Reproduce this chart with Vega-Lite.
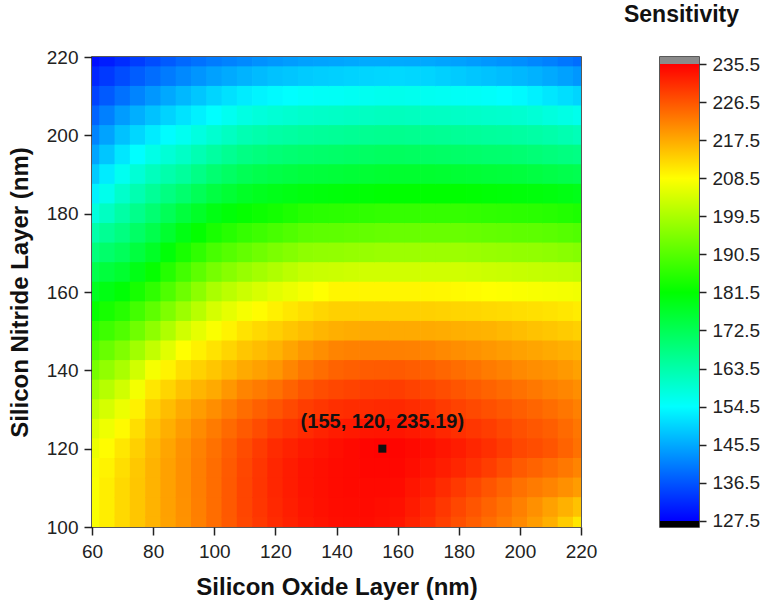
{
  "$schema": "https://vega.github.io/schema/vega-lite/v6.json",
  "background": "white",
  "padding": {"left": 7, "top": 3, "right": 5, "bottom": 5},
  "bounds": "flush",
  "spacing": 79,
  "config": {
    "font": "Liberation Sans",
    "view": {"stroke": "#222", "strokeWidth": 1.5}
  },
  "hconcat": [
    {
      "width": 489,
      "height": 470,
      "layer": [
        {
          "data": {"values": [
{"x":60,"y":220,"s":129},{"x":60,"y":215,"s":131.5},{"x":60,"y":210,"s":134.5},{"x":60,"y":205,"s":138},{"x":60,"y":200,"s":141.5},{"x":60,"y":195,"s":145},{"x":60,"y":190,"s":149},{"x":60,"y":185,"s":153},{"x":60,"y":180,"s":158},{"x":60,"y":175,"s":163.5},{"x":60,"y":170,"s":168.5},{"x":60,"y":165,"s":173.5},{"x":60,"y":160,"s":178},{"x":60,"y":155,"s":182},{"x":60,"y":150,"s":186},{"x":60,"y":145,"s":190},{"x":60,"y":140,"s":194},{"x":60,"y":135,"s":198},{"x":60,"y":130,"s":201.5},{"x":60,"y":125,"s":204.5},{"x":60,"y":120,"s":206.5},{"x":60,"y":115,"s":207.5},{"x":60,"y":110,"s":208},{"x":60,"y":105,"s":208},{"x":60,"y":100,"s":208},
{"x":65,"y":220,"s":130.5},{"x":65,"y":215,"s":133.5},{"x":65,"y":210,"s":137},{"x":65,"y":205,"s":141},{"x":65,"y":200,"s":144.8},{"x":65,"y":195,"s":148.5},{"x":65,"y":190,"s":152.5},{"x":65,"y":185,"s":156.5},{"x":65,"y":180,"s":161},{"x":65,"y":175,"s":165.8},{"x":65,"y":170,"s":170.3},{"x":65,"y":165,"s":175},{"x":65,"y":160,"s":179.5},{"x":65,"y":155,"s":183.8},{"x":65,"y":150,"s":188},{"x":65,"y":145,"s":192.5},{"x":65,"y":140,"s":196.8},{"x":65,"y":135,"s":200.8},{"x":65,"y":130,"s":204},{"x":65,"y":125,"s":206.8},{"x":65,"y":120,"s":208.8},{"x":65,"y":115,"s":209.8},{"x":65,"y":110,"s":210.3},{"x":65,"y":105,"s":210.3},{"x":65,"y":100,"s":210.3},
{"x":70,"y":220,"s":132},{"x":70,"y":215,"s":135.5},{"x":70,"y":210,"s":139.5},{"x":70,"y":205,"s":144},{"x":70,"y":200,"s":148},{"x":70,"y":195,"s":152},{"x":70,"y":190,"s":156},{"x":70,"y":185,"s":160},{"x":70,"y":180,"s":164},{"x":70,"y":175,"s":168},{"x":70,"y":170,"s":172},{"x":70,"y":165,"s":176.5},{"x":70,"y":160,"s":181},{"x":70,"y":155,"s":185.5},{"x":70,"y":150,"s":190},{"x":70,"y":145,"s":195},{"x":70,"y":140,"s":199.5},{"x":70,"y":135,"s":203.5},{"x":70,"y":130,"s":206.5},{"x":70,"y":125,"s":209},{"x":70,"y":120,"s":211},{"x":70,"y":115,"s":212},{"x":70,"y":110,"s":212.5},{"x":70,"y":105,"s":212.5},{"x":70,"y":100,"s":212.5},
{"x":75,"y":220,"s":133.8},{"x":75,"y":215,"s":137.3},{"x":75,"y":210,"s":141.5},{"x":75,"y":205,"s":146},{"x":75,"y":200,"s":150.3},{"x":75,"y":195,"s":154.5},{"x":75,"y":190,"s":158.8},{"x":75,"y":185,"s":162.8},{"x":75,"y":180,"s":166.8},{"x":75,"y":175,"s":170.8},{"x":75,"y":170,"s":174.8},{"x":75,"y":165,"s":179.3},{"x":75,"y":160,"s":183.8},{"x":75,"y":155,"s":188.5},{"x":75,"y":150,"s":193.3},{"x":75,"y":145,"s":198.5},{"x":75,"y":140,"s":203.5},{"x":75,"y":135,"s":207.3},{"x":75,"y":130,"s":210},{"x":75,"y":125,"s":212},{"x":75,"y":120,"s":213.5},{"x":75,"y":115,"s":214.3},{"x":75,"y":110,"s":214.5},{"x":75,"y":105,"s":214.5},{"x":75,"y":100,"s":214.5},
{"x":80,"y":220,"s":135.5},{"x":80,"y":215,"s":139},{"x":80,"y":210,"s":143.5},{"x":80,"y":205,"s":148},{"x":80,"y":200,"s":152.5},{"x":80,"y":195,"s":157},{"x":80,"y":190,"s":161.5},{"x":80,"y":185,"s":165.5},{"x":80,"y":180,"s":169.5},{"x":80,"y":175,"s":173.5},{"x":80,"y":170,"s":177.5},{"x":80,"y":165,"s":182},{"x":80,"y":160,"s":186.5},{"x":80,"y":155,"s":191.5},{"x":80,"y":150,"s":196.5},{"x":80,"y":145,"s":202},{"x":80,"y":140,"s":207.5},{"x":80,"y":135,"s":211},{"x":80,"y":130,"s":213.5},{"x":80,"y":125,"s":215},{"x":80,"y":120,"s":216},{"x":80,"y":115,"s":216.5},{"x":80,"y":110,"s":216.5},{"x":80,"y":105,"s":216.5},{"x":80,"y":100,"s":216.5},
{"x":85,"y":220,"s":137},{"x":85,"y":215,"s":140.5},{"x":85,"y":210,"s":145.3},{"x":85,"y":205,"s":149.8},{"x":85,"y":200,"s":154.3},{"x":85,"y":195,"s":158.8},{"x":85,"y":190,"s":163.3},{"x":85,"y":185,"s":167.8},{"x":85,"y":180,"s":172.3},{"x":85,"y":175,"s":176.5},{"x":85,"y":170,"s":180.8},{"x":85,"y":165,"s":185.3},{"x":85,"y":160,"s":189.8},{"x":85,"y":155,"s":194.8},{"x":85,"y":150,"s":200},{"x":85,"y":145,"s":205.3},{"x":85,"y":140,"s":209.8},{"x":85,"y":135,"s":213},{"x":85,"y":130,"s":215.5},{"x":85,"y":125,"s":217},{"x":85,"y":120,"s":218},{"x":85,"y":115,"s":218.4},{"x":85,"y":110,"s":218.4},{"x":85,"y":105,"s":218.4},{"x":85,"y":100,"s":218.3},
{"x":90,"y":220,"s":138.5},{"x":90,"y":215,"s":142},{"x":90,"y":210,"s":147},{"x":90,"y":205,"s":151.5},{"x":90,"y":200,"s":156},{"x":90,"y":195,"s":160.5},{"x":90,"y":190,"s":165},{"x":90,"y":185,"s":170},{"x":90,"y":180,"s":175},{"x":90,"y":175,"s":179.5},{"x":90,"y":170,"s":184},{"x":90,"y":165,"s":188.5},{"x":90,"y":160,"s":193},{"x":90,"y":155,"s":198},{"x":90,"y":150,"s":203.5},{"x":90,"y":145,"s":208.5},{"x":90,"y":140,"s":212},{"x":90,"y":135,"s":215},{"x":90,"y":130,"s":217.5},{"x":90,"y":125,"s":219},{"x":90,"y":120,"s":220},{"x":90,"y":115,"s":220.3},{"x":90,"y":110,"s":220.3},{"x":90,"y":105,"s":220.2},{"x":90,"y":100,"s":220},
{"x":95,"y":220,"s":139.5},{"x":95,"y":215,"s":143.3},{"x":95,"y":210,"s":148.5},{"x":95,"y":205,"s":153},{"x":95,"y":200,"s":157.8},{"x":95,"y":195,"s":162.5},{"x":95,"y":190,"s":167.3},{"x":95,"y":185,"s":172.3},{"x":95,"y":180,"s":177.3},{"x":95,"y":175,"s":181.8},{"x":95,"y":170,"s":186.5},{"x":95,"y":165,"s":191.3},{"x":95,"y":160,"s":196.3},{"x":95,"y":155,"s":201},{"x":95,"y":150,"s":205.8},{"x":95,"y":145,"s":210},{"x":95,"y":140,"s":213.3},{"x":95,"y":135,"s":216.3},{"x":95,"y":130,"s":219},{"x":95,"y":125,"s":220.8},{"x":95,"y":120,"s":221.8},{"x":95,"y":115,"s":222.2},{"x":95,"y":110,"s":222.2},{"x":95,"y":105,"s":222.1},{"x":95,"y":100,"s":222},
{"x":100,"y":220,"s":140.5},{"x":100,"y":215,"s":144.5},{"x":100,"y":210,"s":150},{"x":100,"y":205,"s":154.5},{"x":100,"y":200,"s":159.5},{"x":100,"y":195,"s":164.5},{"x":100,"y":190,"s":169.5},{"x":100,"y":185,"s":174.5},{"x":100,"y":180,"s":179.5},{"x":100,"y":175,"s":184},{"x":100,"y":170,"s":189},{"x":100,"y":165,"s":194},{"x":100,"y":160,"s":199.5},{"x":100,"y":155,"s":204},{"x":100,"y":150,"s":208},{"x":100,"y":145,"s":211.5},{"x":100,"y":140,"s":214.5},{"x":100,"y":135,"s":217.5},{"x":100,"y":130,"s":220.5},{"x":100,"y":125,"s":222.5},{"x":100,"y":120,"s":223.5},{"x":100,"y":115,"s":224},{"x":100,"y":110,"s":224},{"x":100,"y":105,"s":224},{"x":100,"y":100,"s":224},
{"x":105,"y":220,"s":141.3},{"x":105,"y":215,"s":145.5},{"x":105,"y":210,"s":151.3},{"x":105,"y":205,"s":156},{"x":105,"y":200,"s":161},{"x":105,"y":195,"s":166},{"x":105,"y":190,"s":171},{"x":105,"y":185,"s":176},{"x":105,"y":180,"s":180.8},{"x":105,"y":175,"s":185.5},{"x":105,"y":170,"s":190.5},{"x":105,"y":165,"s":195.8},{"x":105,"y":160,"s":201.3},{"x":105,"y":155,"s":205.8},{"x":105,"y":150,"s":209.8},{"x":105,"y":145,"s":213},{"x":105,"y":140,"s":216},{"x":105,"y":135,"s":219.5},{"x":105,"y":130,"s":222.3},{"x":105,"y":125,"s":224.3},{"x":105,"y":120,"s":225.5},{"x":105,"y":115,"s":226},{"x":105,"y":110,"s":226.1},{"x":105,"y":105,"s":226.1},{"x":105,"y":100,"s":226},
{"x":110,"y":220,"s":142},{"x":110,"y":215,"s":146.5},{"x":110,"y":210,"s":152.5},{"x":110,"y":205,"s":157.5},{"x":110,"y":200,"s":162.5},{"x":110,"y":195,"s":167.5},{"x":110,"y":190,"s":172.5},{"x":110,"y":185,"s":177.5},{"x":110,"y":180,"s":182},{"x":110,"y":175,"s":187},{"x":110,"y":170,"s":192},{"x":110,"y":165,"s":197.5},{"x":110,"y":160,"s":203},{"x":110,"y":155,"s":207.5},{"x":110,"y":150,"s":211.5},{"x":110,"y":145,"s":214.5},{"x":110,"y":140,"s":217.5},{"x":110,"y":135,"s":221.5},{"x":110,"y":130,"s":224},{"x":110,"y":125,"s":226},{"x":110,"y":120,"s":227.5},{"x":110,"y":115,"s":228},{"x":110,"y":110,"s":228.2},{"x":110,"y":105,"s":228.2},{"x":110,"y":100,"s":228},
{"x":115,"y":220,"s":142.8},{"x":115,"y":215,"s":147.3},{"x":115,"y":210,"s":153.3},{"x":115,"y":205,"s":158.3},{"x":115,"y":200,"s":163.3},{"x":115,"y":195,"s":168.3},{"x":115,"y":190,"s":173.3},{"x":115,"y":185,"s":178.3},{"x":115,"y":180,"s":182.8},{"x":115,"y":175,"s":188},{"x":115,"y":170,"s":193.3},{"x":115,"y":165,"s":198.8},{"x":115,"y":160,"s":204.3},{"x":115,"y":155,"s":208.8},{"x":115,"y":150,"s":212.5},{"x":115,"y":145,"s":215.5},{"x":115,"y":140,"s":218.5},{"x":115,"y":135,"s":222.5},{"x":115,"y":130,"s":225.3},{"x":115,"y":125,"s":227.5},{"x":115,"y":120,"s":229.3},{"x":115,"y":115,"s":229.8},{"x":115,"y":110,"s":229.9},{"x":115,"y":105,"s":229.8},{"x":115,"y":100,"s":229.5},
{"x":120,"y":220,"s":143.5},{"x":120,"y":215,"s":148},{"x":120,"y":210,"s":154},{"x":120,"y":205,"s":159},{"x":120,"y":200,"s":164},{"x":120,"y":195,"s":169},{"x":120,"y":190,"s":174},{"x":120,"y":185,"s":179},{"x":120,"y":180,"s":183.5},{"x":120,"y":175,"s":189},{"x":120,"y":170,"s":194.5},{"x":120,"y":165,"s":200},{"x":120,"y":160,"s":205.5},{"x":120,"y":155,"s":210},{"x":120,"y":150,"s":213.5},{"x":120,"y":145,"s":216.5},{"x":120,"y":140,"s":219.5},{"x":120,"y":135,"s":223.5},{"x":120,"y":130,"s":226.5},{"x":120,"y":125,"s":229},{"x":120,"y":120,"s":231},{"x":120,"y":115,"s":231.5},{"x":120,"y":110,"s":231.5},{"x":120,"y":105,"s":231.3},{"x":120,"y":100,"s":231},
{"x":125,"y":220,"s":144},{"x":125,"y":215,"s":148.5},{"x":125,"y":210,"s":154.5},{"x":125,"y":205,"s":159.5},{"x":125,"y":200,"s":164.5},{"x":125,"y":195,"s":169.5},{"x":125,"y":190,"s":174.5},{"x":125,"y":185,"s":179.5},{"x":125,"y":180,"s":184.5},{"x":125,"y":175,"s":190},{"x":125,"y":170,"s":195.5},{"x":125,"y":165,"s":201.3},{"x":125,"y":160,"s":206.5},{"x":125,"y":155,"s":211},{"x":125,"y":150,"s":214.5},{"x":125,"y":145,"s":218},{"x":125,"y":140,"s":221.3},{"x":125,"y":135,"s":225},{"x":125,"y":130,"s":227.8},{"x":125,"y":125,"s":230},{"x":125,"y":120,"s":231.9},{"x":125,"y":115,"s":232.5},{"x":125,"y":110,"s":232.5},{"x":125,"y":105,"s":232.3},{"x":125,"y":100,"s":232},
{"x":130,"y":220,"s":144.5},{"x":130,"y":215,"s":149},{"x":130,"y":210,"s":155},{"x":130,"y":205,"s":160},{"x":130,"y":200,"s":165},{"x":130,"y":195,"s":170},{"x":130,"y":190,"s":175},{"x":130,"y":185,"s":180},{"x":130,"y":180,"s":185.5},{"x":130,"y":175,"s":191},{"x":130,"y":170,"s":196.5},{"x":130,"y":165,"s":202.5},{"x":130,"y":160,"s":207.5},{"x":130,"y":155,"s":212},{"x":130,"y":150,"s":215.5},{"x":130,"y":145,"s":219.5},{"x":130,"y":140,"s":223},{"x":130,"y":135,"s":226.5},{"x":130,"y":130,"s":229},{"x":130,"y":125,"s":231},{"x":130,"y":120,"s":232.8},{"x":130,"y":115,"s":233.5},{"x":130,"y":110,"s":233.5},{"x":130,"y":105,"s":233.3},{"x":130,"y":100,"s":233},
{"x":135,"y":220,"s":144.8},{"x":135,"y":215,"s":149.3},{"x":135,"y":210,"s":155.3},{"x":135,"y":205,"s":160.3},{"x":135,"y":200,"s":165.3},{"x":135,"y":195,"s":170.3},{"x":135,"y":190,"s":175.3},{"x":135,"y":185,"s":180.3},{"x":135,"y":180,"s":185.8},{"x":135,"y":175,"s":191.3},{"x":135,"y":170,"s":196.8},{"x":135,"y":165,"s":202.8},{"x":135,"y":160,"s":208.5},{"x":135,"y":155,"s":212.8},{"x":135,"y":150,"s":216.3},{"x":135,"y":145,"s":220.5},{"x":135,"y":140,"s":224},{"x":135,"y":135,"s":227.3},{"x":135,"y":130,"s":229.8},{"x":135,"y":125,"s":231.8},{"x":135,"y":120,"s":233.4},{"x":135,"y":115,"s":233.9},{"x":135,"y":110,"s":233.9},{"x":135,"y":105,"s":233.8},{"x":135,"y":100,"s":233.5},
{"x":140,"y":220,"s":145},{"x":140,"y":215,"s":149.5},{"x":140,"y":210,"s":155.5},{"x":140,"y":205,"s":160.5},{"x":140,"y":200,"s":165.5},{"x":140,"y":195,"s":170.5},{"x":140,"y":190,"s":175.5},{"x":140,"y":185,"s":180.5},{"x":140,"y":180,"s":186},{"x":140,"y":175,"s":191.5},{"x":140,"y":170,"s":197},{"x":140,"y":165,"s":203},{"x":140,"y":160,"s":209.5},{"x":140,"y":155,"s":213.5},{"x":140,"y":150,"s":217},{"x":140,"y":145,"s":221.5},{"x":140,"y":140,"s":225},{"x":140,"y":135,"s":228},{"x":140,"y":130,"s":230.5},{"x":140,"y":125,"s":232.5},{"x":140,"y":120,"s":234},{"x":140,"y":115,"s":234.3},{"x":140,"y":110,"s":234.3},{"x":140,"y":105,"s":234.2},{"x":140,"y":100,"s":234},
{"x":145,"y":220,"s":145.3},{"x":145,"y":215,"s":149.8},{"x":145,"y":210,"s":155.8},{"x":145,"y":205,"s":160.8},{"x":145,"y":200,"s":165.8},{"x":145,"y":195,"s":170.8},{"x":145,"y":190,"s":175.8},{"x":145,"y":185,"s":180.8},{"x":145,"y":180,"s":186.3},{"x":145,"y":175,"s":191.8},{"x":145,"y":170,"s":197.3},{"x":145,"y":165,"s":203.3},{"x":145,"y":160,"s":209.5},{"x":145,"y":155,"s":213.5},{"x":145,"y":150,"s":217.3},{"x":145,"y":145,"s":221.8},{"x":145,"y":140,"s":225.4},{"x":145,"y":135,"s":228.4},{"x":145,"y":130,"s":230.8},{"x":145,"y":125,"s":232.9},{"x":145,"y":120,"s":234.5},{"x":145,"y":115,"s":234.6},{"x":145,"y":110,"s":234.5},{"x":145,"y":105,"s":234.3},{"x":145,"y":100,"s":234.1},
{"x":150,"y":220,"s":145.5},{"x":150,"y":215,"s":150},{"x":150,"y":210,"s":156},{"x":150,"y":205,"s":161},{"x":150,"y":200,"s":166},{"x":150,"y":195,"s":171},{"x":150,"y":190,"s":176},{"x":150,"y":185,"s":181},{"x":150,"y":180,"s":186.5},{"x":150,"y":175,"s":192},{"x":150,"y":170,"s":197.5},{"x":150,"y":165,"s":203.5},{"x":150,"y":160,"s":209.5},{"x":150,"y":155,"s":213.5},{"x":150,"y":150,"s":217.5},{"x":150,"y":145,"s":222},{"x":150,"y":140,"s":225.8},{"x":150,"y":135,"s":228.8},{"x":150,"y":130,"s":231},{"x":150,"y":125,"s":233.2},{"x":150,"y":120,"s":235},{"x":150,"y":115,"s":234.9},{"x":150,"y":110,"s":234.6},{"x":150,"y":105,"s":234.4},{"x":150,"y":100,"s":234.2},
{"x":155,"y":220,"s":145.5},{"x":155,"y":215,"s":150.3},{"x":155,"y":210,"s":156.3},{"x":155,"y":205,"s":161.3},{"x":155,"y":200,"s":166.3},{"x":155,"y":195,"s":171.3},{"x":155,"y":190,"s":176.3},{"x":155,"y":185,"s":181.3},{"x":155,"y":180,"s":186.8},{"x":155,"y":175,"s":192.3},{"x":155,"y":170,"s":197.8},{"x":155,"y":165,"s":203.5},{"x":155,"y":160,"s":209.5},{"x":155,"y":155,"s":213.5},{"x":155,"y":150,"s":217.5},{"x":155,"y":145,"s":222},{"x":155,"y":140,"s":225.9},{"x":155,"y":135,"s":228.9},{"x":155,"y":130,"s":231.2},{"x":155,"y":125,"s":233.3},{"x":155,"y":120,"s":235.19},{"x":155,"y":115,"s":234.9},{"x":155,"y":110,"s":234.5},{"x":155,"y":105,"s":234.1},{"x":155,"y":100,"s":233.8},
{"x":160,"y":220,"s":145.5},{"x":160,"y":215,"s":150.5},{"x":160,"y":210,"s":156.5},{"x":160,"y":205,"s":161.5},{"x":160,"y":200,"s":166.5},{"x":160,"y":195,"s":171.5},{"x":160,"y":190,"s":176.5},{"x":160,"y":185,"s":181.5},{"x":160,"y":180,"s":187},{"x":160,"y":175,"s":192.5},{"x":160,"y":170,"s":198},{"x":160,"y":165,"s":203.5},{"x":160,"y":160,"s":209.5},{"x":160,"y":155,"s":213.5},{"x":160,"y":150,"s":217.5},{"x":160,"y":145,"s":222},{"x":160,"y":140,"s":226},{"x":160,"y":135,"s":229},{"x":160,"y":130,"s":231.3},{"x":160,"y":125,"s":233.3},{"x":160,"y":120,"s":235},{"x":160,"y":115,"s":234.8},{"x":160,"y":110,"s":234.3},{"x":160,"y":105,"s":233.8},{"x":160,"y":100,"s":233.3},
{"x":165,"y":220,"s":145.4},{"x":165,"y":215,"s":150.3},{"x":165,"y":210,"s":156.3},{"x":165,"y":205,"s":161.3},{"x":165,"y":200,"s":166.3},{"x":165,"y":195,"s":171.3},{"x":165,"y":190,"s":176.5},{"x":165,"y":185,"s":181.5},{"x":165,"y":180,"s":187},{"x":165,"y":175,"s":192.5},{"x":165,"y":170,"s":198},{"x":165,"y":165,"s":203.5},{"x":165,"y":160,"s":209.5},{"x":165,"y":155,"s":213.5},{"x":165,"y":150,"s":217.5},{"x":165,"y":145,"s":221.8},{"x":165,"y":140,"s":225.7},{"x":165,"y":135,"s":228.5},{"x":165,"y":130,"s":230.8},{"x":165,"y":125,"s":232.8},{"x":165,"y":120,"s":234.5},{"x":165,"y":115,"s":234.1},{"x":165,"y":110,"s":233.3},{"x":165,"y":105,"s":232.6},{"x":165,"y":100,"s":231.9},
{"x":170,"y":220,"s":145.3},{"x":170,"y":215,"s":150},{"x":170,"y":210,"s":156},{"x":170,"y":205,"s":161},{"x":170,"y":200,"s":166},{"x":170,"y":195,"s":171},{"x":170,"y":190,"s":176.5},{"x":170,"y":185,"s":181.5},{"x":170,"y":180,"s":187},{"x":170,"y":175,"s":192.5},{"x":170,"y":170,"s":198},{"x":170,"y":165,"s":203.5},{"x":170,"y":160,"s":209.5},{"x":170,"y":155,"s":213.5},{"x":170,"y":150,"s":217.5},{"x":170,"y":145,"s":221.5},{"x":170,"y":140,"s":225.3},{"x":170,"y":135,"s":228},{"x":170,"y":130,"s":230.3},{"x":170,"y":125,"s":232.3},{"x":170,"y":120,"s":234},{"x":170,"y":115,"s":233.3},{"x":170,"y":110,"s":232.3},{"x":170,"y":105,"s":231.3},{"x":170,"y":100,"s":230.5},
{"x":175,"y":220,"s":144.9},{"x":175,"y":215,"s":149.5},{"x":175,"y":210,"s":155.8},{"x":175,"y":205,"s":160.8},{"x":175,"y":200,"s":165.8},{"x":175,"y":195,"s":170.8},{"x":175,"y":190,"s":176.3},{"x":175,"y":185,"s":181.5},{"x":175,"y":180,"s":187},{"x":175,"y":175,"s":192.5},{"x":175,"y":170,"s":198},{"x":175,"y":165,"s":203.5},{"x":175,"y":160,"s":209.3},{"x":175,"y":155,"s":213.3},{"x":175,"y":150,"s":217.3},{"x":175,"y":145,"s":221},{"x":175,"y":140,"s":224.7},{"x":175,"y":135,"s":227.3},{"x":175,"y":130,"s":229.4},{"x":175,"y":125,"s":231.4},{"x":175,"y":120,"s":233.3},{"x":175,"y":115,"s":232.4},{"x":175,"y":110,"s":230.9},{"x":175,"y":105,"s":229.7},{"x":175,"y":100,"s":228.8},
{"x":180,"y":220,"s":144.5},{"x":180,"y":215,"s":149},{"x":180,"y":210,"s":155.5},{"x":180,"y":205,"s":160.5},{"x":180,"y":200,"s":165.5},{"x":180,"y":195,"s":170.5},{"x":180,"y":190,"s":176},{"x":180,"y":185,"s":181.5},{"x":180,"y":180,"s":187},{"x":180,"y":175,"s":192.5},{"x":180,"y":170,"s":198},{"x":180,"y":165,"s":203.5},{"x":180,"y":160,"s":209},{"x":180,"y":155,"s":213},{"x":180,"y":150,"s":217},{"x":180,"y":145,"s":220.5},{"x":180,"y":140,"s":224},{"x":180,"y":135,"s":226.5},{"x":180,"y":130,"s":228.5},{"x":180,"y":125,"s":230.5},{"x":180,"y":120,"s":232.5},{"x":180,"y":115,"s":231.5},{"x":180,"y":110,"s":229.5},{"x":180,"y":105,"s":228},{"x":180,"y":100,"s":227},
{"x":185,"y":220,"s":144},{"x":185,"y":215,"s":148.5},{"x":185,"y":210,"s":155.3},{"x":185,"y":205,"s":160.3},{"x":185,"y":200,"s":165.3},{"x":185,"y":195,"s":170.3},{"x":185,"y":190,"s":175.8},{"x":185,"y":185,"s":181.3},{"x":185,"y":180,"s":186.8},{"x":185,"y":175,"s":192.3},{"x":185,"y":170,"s":197.8},{"x":185,"y":165,"s":203.3},{"x":185,"y":160,"s":208.8},{"x":185,"y":155,"s":212.8},{"x":185,"y":150,"s":216.8},{"x":185,"y":145,"s":220},{"x":185,"y":140,"s":223.3},{"x":185,"y":135,"s":225.8},{"x":185,"y":130,"s":227.8},{"x":185,"y":125,"s":229.8},{"x":185,"y":120,"s":231.5},{"x":185,"y":115,"s":230.3},{"x":185,"y":110,"s":228},{"x":185,"y":105,"s":226.5},{"x":185,"y":100,"s":225.5},
{"x":190,"y":220,"s":143.5},{"x":190,"y":215,"s":148},{"x":190,"y":210,"s":155},{"x":190,"y":205,"s":160},{"x":190,"y":200,"s":165},{"x":190,"y":195,"s":170},{"x":190,"y":190,"s":175.5},{"x":190,"y":185,"s":181},{"x":190,"y":180,"s":186.5},{"x":190,"y":175,"s":192},{"x":190,"y":170,"s":197.5},{"x":190,"y":165,"s":203},{"x":190,"y":160,"s":208.5},{"x":190,"y":155,"s":212.5},{"x":190,"y":150,"s":216.5},{"x":190,"y":145,"s":219.5},{"x":190,"y":140,"s":222.5},{"x":190,"y":135,"s":225},{"x":190,"y":130,"s":227},{"x":190,"y":125,"s":229},{"x":190,"y":120,"s":230.5},{"x":190,"y":115,"s":229},{"x":190,"y":110,"s":226.5},{"x":190,"y":105,"s":225},{"x":190,"y":100,"s":224},
{"x":195,"y":220,"s":143},{"x":195,"y":215,"s":147.5},{"x":195,"y":210,"s":154.5},{"x":195,"y":205,"s":159.8},{"x":195,"y":200,"s":164.8},{"x":195,"y":195,"s":169.8},{"x":195,"y":190,"s":175.3},{"x":195,"y":185,"s":180.8},{"x":195,"y":180,"s":186.3},{"x":195,"y":175,"s":191.8},{"x":195,"y":170,"s":197.3},{"x":195,"y":165,"s":202.8},{"x":195,"y":160,"s":208.3},{"x":195,"y":155,"s":212.3},{"x":195,"y":150,"s":216},{"x":195,"y":145,"s":219},{"x":195,"y":140,"s":221.8},{"x":195,"y":135,"s":224.3},{"x":195,"y":130,"s":226.3},{"x":195,"y":125,"s":228},{"x":195,"y":120,"s":229.3},{"x":195,"y":115,"s":227.5},{"x":195,"y":110,"s":225},{"x":195,"y":105,"s":223.5},{"x":195,"y":100,"s":222.5},
{"x":200,"y":220,"s":142.5},{"x":200,"y":215,"s":147},{"x":200,"y":210,"s":154},{"x":200,"y":205,"s":159.5},{"x":200,"y":200,"s":164.5},{"x":200,"y":195,"s":169.5},{"x":200,"y":190,"s":175},{"x":200,"y":185,"s":180.5},{"x":200,"y":180,"s":186},{"x":200,"y":175,"s":191.5},{"x":200,"y":170,"s":197},{"x":200,"y":165,"s":202.5},{"x":200,"y":160,"s":208},{"x":200,"y":155,"s":212},{"x":200,"y":150,"s":215.5},{"x":200,"y":145,"s":218.5},{"x":200,"y":140,"s":221},{"x":200,"y":135,"s":223.5},{"x":200,"y":130,"s":225.5},{"x":200,"y":125,"s":227},{"x":200,"y":120,"s":228},{"x":200,"y":115,"s":226},{"x":200,"y":110,"s":223.5},{"x":200,"y":105,"s":222},{"x":200,"y":100,"s":221},
{"x":205,"y":220,"s":141.8},{"x":205,"y":215,"s":146.3},{"x":205,"y":210,"s":153},{"x":205,"y":205,"s":158.8},{"x":205,"y":200,"s":164},{"x":205,"y":195,"s":169},{"x":205,"y":190,"s":174.5},{"x":205,"y":185,"s":180.3},{"x":205,"y":180,"s":185.8},{"x":205,"y":175,"s":191.3},{"x":205,"y":170,"s":196.8},{"x":205,"y":165,"s":202.3},{"x":205,"y":160,"s":207.8},{"x":205,"y":155,"s":211.8},{"x":205,"y":150,"s":215},{"x":205,"y":145,"s":218},{"x":205,"y":140,"s":220.5},{"x":205,"y":135,"s":222.8},{"x":205,"y":130,"s":224.8},{"x":205,"y":125,"s":226.3},{"x":205,"y":120,"s":227.3},{"x":205,"y":115,"s":225},{"x":205,"y":110,"s":222.5},{"x":205,"y":105,"s":220.3},{"x":205,"y":100,"s":219},
{"x":210,"y":220,"s":141},{"x":210,"y":215,"s":145.5},{"x":210,"y":210,"s":152},{"x":210,"y":205,"s":158},{"x":210,"y":200,"s":163.5},{"x":210,"y":195,"s":168.5},{"x":210,"y":190,"s":174},{"x":210,"y":185,"s":180},{"x":210,"y":180,"s":185.5},{"x":210,"y":175,"s":191},{"x":210,"y":170,"s":196.5},{"x":210,"y":165,"s":202},{"x":210,"y":160,"s":207.5},{"x":210,"y":155,"s":211.5},{"x":210,"y":150,"s":214.5},{"x":210,"y":145,"s":217.5},{"x":210,"y":140,"s":220},{"x":210,"y":135,"s":222},{"x":210,"y":130,"s":224},{"x":210,"y":125,"s":225.5},{"x":210,"y":120,"s":226.5},{"x":210,"y":115,"s":224},{"x":210,"y":110,"s":221.5},{"x":210,"y":105,"s":218.5},{"x":210,"y":100,"s":217},
{"x":215,"y":220,"s":140},{"x":215,"y":215,"s":144.5},{"x":215,"y":210,"s":151},{"x":215,"y":205,"s":157.3},{"x":215,"y":200,"s":162.8},{"x":215,"y":195,"s":168},{"x":215,"y":190,"s":173.5},{"x":215,"y":185,"s":179.5},{"x":215,"y":180,"s":185},{"x":215,"y":175,"s":190.5},{"x":215,"y":170,"s":196},{"x":215,"y":165,"s":201.8},{"x":215,"y":160,"s":207.3},{"x":215,"y":155,"s":211},{"x":215,"y":150,"s":214},{"x":215,"y":145,"s":217},{"x":215,"y":140,"s":219.3},{"x":215,"y":135,"s":221.3},{"x":215,"y":130,"s":223},{"x":215,"y":125,"s":224.3},{"x":215,"y":120,"s":225},{"x":215,"y":115,"s":222.8},{"x":215,"y":110,"s":220.3},{"x":215,"y":105,"s":216.8},{"x":215,"y":100,"s":214},
{"x":220,"y":220,"s":139},{"x":220,"y":215,"s":143.5},{"x":220,"y":210,"s":150},{"x":220,"y":205,"s":156.5},{"x":220,"y":200,"s":162},{"x":220,"y":195,"s":167.5},{"x":220,"y":190,"s":173},{"x":220,"y":185,"s":179},{"x":220,"y":180,"s":184.5},{"x":220,"y":175,"s":190},{"x":220,"y":170,"s":195.5},{"x":220,"y":165,"s":201.5},{"x":220,"y":160,"s":207},{"x":220,"y":155,"s":210.5},{"x":220,"y":150,"s":213.5},{"x":220,"y":145,"s":216.5},{"x":220,"y":140,"s":218.5},{"x":220,"y":135,"s":220.5},{"x":220,"y":130,"s":222},{"x":220,"y":125,"s":223},{"x":220,"y":120,"s":223.5},{"x":220,"y":115,"s":221.5},{"x":220,"y":110,"s":219},{"x":220,"y":105,"s":215},{"x":220,"y":100,"s":211}
          ]},
          "mark": {"type": "rect", "width": 16, "height": 20.5, "clip": true},
          "encoding": {
            "x": {
              "field": "x", "type": "quantitative",
              "scale": {"domain": [60, 220], "nice": false, "zero": false},
              "axis": {
                "values": [60,70,80,90,100,110,120,130,140,150,160,170,180,190,200,210,220],
                "labelExpr": "datum.value % 20 === 0 ? datum.label : ''",
                "tickSize": {"condition": {"test": "datum.value % 20 === 0", "value": 8}, "value": 5},
                "tickColor": "#222", "tickWidth": 1.5,
                "domain": false, "grid": false,
                "labelFontSize": 19, "labelColor": "#222", "labelPadding": 7,
                "labelFlush": false, "labelOverlap": false,
                "title": "Silicon Oxide Layer (nm)",
                "titleFontSize": 24, "titleFontWeight": "bold", "titleColor": "#111", "titlePadding": 14
              }
            },
            "y": {
              "field": "y", "type": "quantitative",
              "scale": {"domain": [100, 220], "nice": false, "zero": false},
              "axis": {
                "values": [100,110,120,130,140,150,160,170,180,190,200,210,220],
                "labelExpr": "datum.value % 20 === 0 ? datum.label : ''",
                "tickSize": {"condition": {"test": "datum.value % 20 === 0", "value": 8}, "value": 5},
                "tickColor": "#222", "tickWidth": 1.5,
                "domain": false, "grid": false,
                "labelFontSize": 19, "labelColor": "#222", "labelPadding": 6,
                "labelFlush": false, "labelOverlap": false,
                "title": "Silicon Nitride Layer (nm)",
                "titleFontSize": 24, "titleFontWeight": "bold", "titleColor": "#111", "titlePadding": 14
              }
            },
            "color": {
              "field": "s", "type": "quantitative",
              "scale": {
                "domain": [127.5, 154.5, 181.5, 208.5, 235.5],
                "range": ["#0000ff", "#00ffff", "#00ff00", "#ffff00", "#ff0000"],
                "interpolate": "rgb"
              },
              "legend": null
            }
          }
        },
        {
          "data": {"values": [{"x": 155, "y": 120, "label": "(155, 120, 235.19)"}]},
          "mark": {"type": "point", "shape": "square", "filled": true, "size": 64, "color": "#111", "opacity": 1},
          "encoding": {
            "x": {"field": "x", "type": "quantitative"},
            "y": {"field": "y", "type": "quantitative"}
          }
        },
        {
          "data": {"values": [{"x": 155, "y": 120, "label": "(155, 120, 235.19)"}]},
          "mark": {"type": "text", "fontSize": 20, "fontWeight": "bold", "color": "#111", "dy": -27, "baseline": "middle", "align": "center"},
          "encoding": {
            "x": {"field": "x", "type": "quantitative"},
            "y": {"field": "y", "type": "quantitative"},
            "text": {"field": "label"}
          }
        }
      ]
    },
    {
      "width": 39,
      "height": 470,
      "title": {"text": "Sensitivity", "fontSize": 23, "fontWeight": "bold", "color": "#111", "anchor": "middle", "offset": 28, "dx": 2},
      "data": {"values": [{}]},
      "mark": {
        "type": "rect",
        "fill": {
          "gradient": "linear", "x1": 0, "y1": 1, "x2": 0, "y2": 0,
          "stops": [
            {"offset": 0, "color": "#000000"},
            {"offset": 0.0135, "color": "#000000"},
            {"offset": 0.0135, "color": "#0000ff"},
            {"offset": 0.2563, "color": "#00ffff"},
            {"offset": 0.4991, "color": "#00ff00"},
            {"offset": 0.7419, "color": "#ffff00"},
            {"offset": 0.9847, "color": "#ff0000"},
            {"offset": 0.9847, "color": "#8a8a8a"},
            {"offset": 1, "color": "#8a8a8a"}
          ]
        }
      },
      "encoding": {
        "x": {"datum": 0, "type": "quantitative", "scale": {"domain": [0, 1], "nice": false, "zero": false}, "axis": null},
        "x2": {"datum": 1},
        "y": {
          "datum": 126, "type": "quantitative",
          "scale": {"domain": [126, 237.2], "nice": false, "zero": false},
          "axis": {
            "orient": "right",
            "values": [127.5,136.5,145.5,154.5,163.5,172.5,181.5,190.5,199.5,208.5,217.5,226.5,235.5],
            "format": ".1f",
            "tickSize": 7, "tickColor": "#222", "tickWidth": 1.5,
            "domain": false, "grid": false,
            "labelFontSize": 19, "labelColor": "#222", "labelPadding": 6,
            "labelFlush": false, "labelOverlap": false,
            "title": null
          }
        },
        "y2": {"datum": 237.2}
      }
    }
  ]
}
